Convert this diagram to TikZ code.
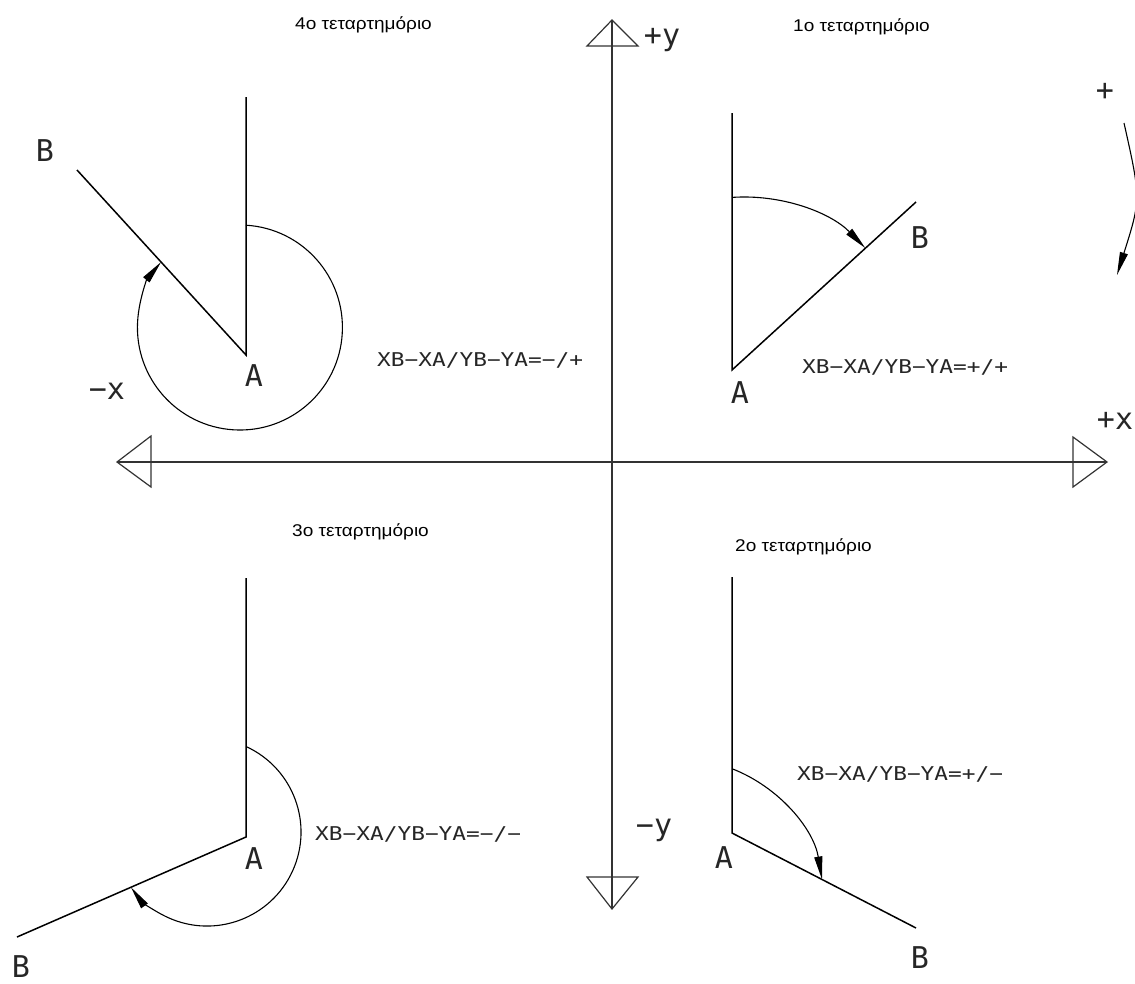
\documentclass[tikz,border=0pt]{standalone}
\usepackage{fontspec}
\setmainfont{Liberation Sans}
\newfontfamily\grkwide[FakeStretch=1.12]{Liberation Sans}
\newfontfamily\cadfont{DejaVu Sans Mono}
\newfontfamily\cadwide[FakeStretch=1.2]{DejaVu Sans Mono}
\usetikzlibrary{arrows.meta}
\begin{document}
\begin{tikzpicture}[x=1pt,y=-1pt,
  axisline/.style={line width=1.2pt, black!80},
  headtri/.style={line width=1.2pt, black!80, line join=miter},
  armline/.style={line width=1.5pt, black},
  anglearc/.style={line width=1.1pt, black, -{Triangle[length=23pt,width=8pt]}},
  biglbl/.style={font=\cadfont\fontsize{30}{30}\selectfont, inner sep=0pt, text=black!85},
  formula/.style={font=\cadwide\fontsize{19}{19}\selectfont, inner sep=0pt, anchor=base west, text=black!85},
  quadlbl/.style={font=\grkwide\fontsize{17}{17}\selectfont, inner sep=0pt, anchor=base west},
]
\useasboundingbox (0,0) rectangle (1135,983);
\fill[white] (0,0) rectangle (1135,983);

% axes
\coordinate (ytop) at (612,20);
\coordinate (ybot) at (612,909);
\coordinate (xl) at (117,462);
\coordinate (xr) at (1107,462);
\draw[axisline] (ytop) -- (ybot);
\draw[axisline] (xl) -- (xr);
\draw[headtri] (ytop) -- (587,46) -- (638,46) -- cycle;
\draw[headtri] (ybot) -- (587,877) -- (638,877) -- cycle;
\draw[headtri] (xl) -- (151,436) -- (151,487) -- cycle;
\draw[headtri] (xr) -- (1073,437) -- (1073,487) -- cycle;
\node[biglbl] (py) at (662,40) {+y};
\node[biglbl] (my) at (654,830) {−y};
\node[biglbl] (px) at (1115,421) {+x};
\node[biglbl] (mx) at (107,391) {−x};

% quadrant 4 (top-left)
\coordinate (A4) at (246,355);
\coordinate (R4) at (246,97);
\coordinate (B4) at (77,170);
\draw[armline] (R4) -- (A4) -- (B4);
\draw[anglearc] (246,225.2) arc[start angle=-86.6, end angle=219.65, radius=102.5];
\node[biglbl] (lA4) at (254,376) {A};
\node[biglbl] (lB4) at (45,151) {B};
\node[formula] (f4) at (377,366) {XB−XA/YB−YA=−/+};
\node[quadlbl] (q4) at (295,29) {4ο τεταρτημόριο};

% quadrant 1 (top-right)
\coordinate (A1) at (732,370);
\coordinate (R1) at (732,113);
\coordinate (B1) at (916,202);
\draw[armline] (R1) -- (A1) -- (B1);
\draw[anglearc] (732,197.4) arc[start angle=-94, end angle=-44.4, radius=170];
\node[biglbl] (lA1) at (740,393) {A};
\node[biglbl] (lB1) at (920,238) {B};
\node[formula] (f1) at (802,373) {XB−XA/YB−YA=+/+};
\node[quadlbl] (q1) at (793,31) {1ο τεταρτημόριο};

% quadrant 3 (bottom-left)
\coordinate (A3) at (246,837);
\coordinate (R3) at (246,578);
\coordinate (B3) at (17,937);
\draw[armline] (R3) -- (A3) -- (B3);
\draw[anglearc] (246,746.5) arc[start angle=-65.5, end angle=144, radius=94];
\node[biglbl] (lA3) at (254,859) {A};
\node[biglbl] (lB3) at (21,967) {B};
\node[formula] (f3) at (315,840) {XB−XA/YB−YA=−/−};
\node[quadlbl] (q3) at (292,536) {3ο τεταρτημόριο};

% quadrant 2 (bottom-right)
\coordinate (A2) at (732,833);
\coordinate (R2) at (732,577);
\coordinate (B2) at (916,928);
\draw[armline] (R2) -- (A2) -- (B2);
\draw[anglearc] (732,768.7) arc[start angle=-68.8, end angle=-9.4, radius=144];
\node[biglbl] (lA2) at (724,858) {A};
\node[biglbl] (lB2) at (920,958) {B};
\node[formula] (f2) at (797,780) {XB−XA/YB−YA=+/−};
\node[quadlbl] (q2) at (735,551) {2ο τεταρτημόριο};

% direction indicator
\node[biglbl] (plus) at (1105,92) {+};
\coordinate (rs) at (1124,123);
\coordinate (re) at (1117,275);
\draw[anglearc] (rs) .. controls (1141,199) .. (re);
\end{tikzpicture}
\end{document}
